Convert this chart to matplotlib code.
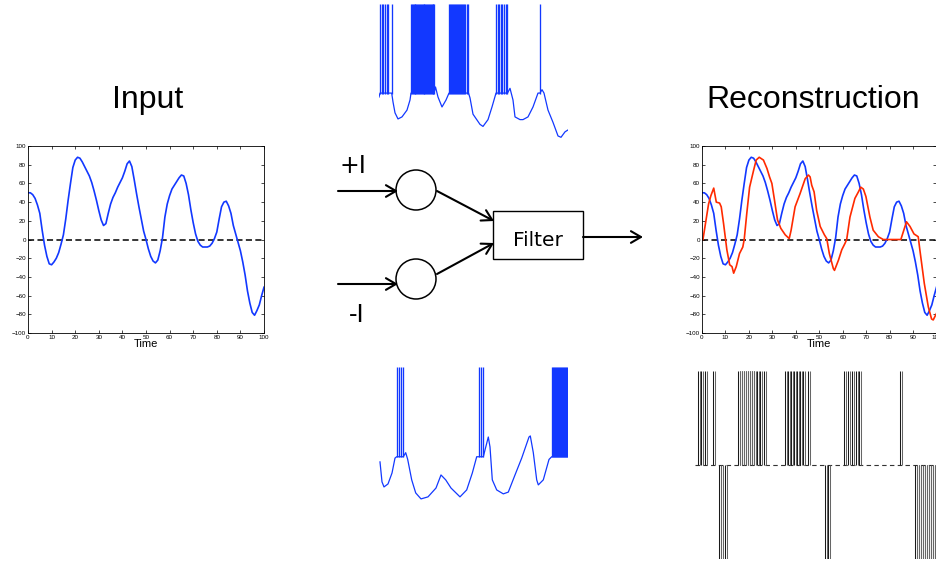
import matplotlib
matplotlib.use('Agg')
import matplotlib.pyplot as plt
from matplotlib.patches import Circle, Rectangle, FancyArrowPatch

plt.rcParams['font.family'] = ['Liberation Sans', 'DejaVu Sans']

BLUE = '#1238ff'
RED = '#ff2a00'

# input signal, one sample per time unit
input_time = list(range(0, 101))
input_signal = [50, 50, 48, 44, 37, 28, 10, -6, -18, -26,
                -27, -24, -20, -14, -5, 5, 22, 42, 60, 77,
                85, 88, 87, 83, 78, 73, 68, 61, 52, 42,
                31, 21, 15, 17, 28, 38, 45, 50, 56, 61,
                66, 73, 81, 84, 78, 64, 49, 35, 22, 9,
                0, -10, -18, -23, -25, -22, -12, 2, 24, 38,
                47, 54, 58, 62, 66, 69, 68, 60, 48, 32,
                18, 6, -2, -6, -8, -8, -8, -7, -4, 1,
                8, 22, 35, 40, 41, 36, 28, 15, 6, -3,
                -12, -24, -38, -55, -68, -78, -81, -76, -70, -60,
                -51]

# reconstruction from the two spike trains
recon_time = [0.4, 2.8, 3.8, 5.0, 6.1, 7.5, 8.2, 9.2, 10.6, 11.8,
              12.8, 13.5, 14.6, 16.0, 17.4, 18.0, 19.1, 20.3, 22.0, 23.1,
              24.4, 26.2, 27.7, 28.8, 29.8, 30.8, 32.2, 33.6, 35.5, 37.2,
              38.0, 39.7, 41.8, 44.0, 45.4, 46.1, 46.8, 47.8, 48.9, 50.4,
              52.2, 53.2, 54.3, 56.0, 56.5, 58.2, 59.6, 61.0, 61.7, 63.1,
              65.2, 66.7, 67.7, 68.8, 69.9, 71.6, 73.0, 75.2, 77.3, 84.8,
              87.2, 88.7, 90.4, 92.2, 92.9, 94.8, 96.5, 97.9, 98.6, 100.0]
recon_signal = [0, 38, 47, 55, 40, 39, 35, 17, -11, -27,
                -29, -36, -29, -15, -8, 0, 28, 56, 74, 85,
                88, 85, 76, 67, 60, 44, 21, 12, 5, 1,
                10, 35, 49, 65, 69, 67, 58, 51, 31, 14,
                5, 1, -15, -31, -33, -22, -11, -4, 0, 24,
                44, 51, 56, 54, 46, 24, 10, 3, 0, 0,
                19, 14, 6, 3, -11, -47, -72, -85, -86, -79]

# membrane potential of the "+I" neuron (ms, mV)
pos_trace_t = [0, 1, 12.7, 14, 16, 19, 23, 28, 31, 32,
               55, 56.5, 59, 63, 67, 70, 89.5, 91, 94, 101,
               104, 109, 113, 117, 128.5, 131, 134, 136, 141, 144,
               149, 154, 159, 161, 163, 165, 169, 174, 179, 182,
               186, 189]
pos_trace_v = [-48.4, -45.5, -45.5, -52, -60, -64.5, -63, -58, -50.6, -45.5,
               -45.5, -41, -48.4, -55.7, -50.6, -45.5, -45.5, -49, -61, -68.5,
               -70, -65, -55.7, -45.5, -45.5, -42, -50.6, -63, -65, -65,
               -63, -55.7, -45.5, -45.5, -43, -45.5, -58, -67, -77, -78,
               -74, -72.6]
pos_spike_times = [1, 2.7, 4.3, 6, 7.7, 9.3, 12.7,
                   32, 32.9, 33.8, 34.7, 35.6, 36.5, 37.4, 38.3, 39.2, 40.1,
                   41, 41.9, 42.8, 43.7, 44.6, 45.5, 46.4, 47.3, 48.2, 49.1,
                   50, 50.9, 51.8, 52.7, 53.6, 54.5, 55.2,
                   70, 71, 72, 73, 73.9, 75, 76, 77, 77.9, 79, 80, 81,
                   82, 83.1, 84, 85, 86, 87.7, 89.3,
                   117, 118.7, 120.3, 121.7, 123.3, 125, 126.7, 128.3,
                   161]

# membrane potential of the "-I" neuron (ms, mV)
neg_trace_t = [1, 3, 5, 9, 13, 16, 17.7, 24.3, 26.7, 28.7,
               32.7, 36.7, 42, 49, 57, 62, 66.7, 72, 81, 87.7,
               93.3, 97.7, 100.3, 104.3, 109.3, 111, 113.3, 117.7, 124.3, 129.3,
               136, 142.7, 150, 151.3, 154.3, 157.7, 159.3, 164.3, 170, 172.7,
               188.7]
neg_trace_v = [-49.8, -64.5, -68.2, -66, -58, -47, -46, -46, -43, -48,
               -63, -72.6, -77, -75.5, -69, -59.4, -63, -69, -75.5, -70.4,
               -58, -46, -46, -46, -31.5, -38.8, -63, -70.4, -73.3, -72,
               -59.4, -47, -31.5, -30.7, -43, -63, -66.7, -63, -48, -46,
               -46]
neg_spike_times = [17.7, 20, 22, 24.3,
                   100.3, 102, 104.3,
                   173, 174, 175, 176, 177, 178, 179, 180, 181, 182,
                   183, 184, 185, 186, 187, 188]

# combined spike train (+1 pulses from "+I", -1 pulses from "-I")
raster_up_times = [-1.7, -0.4, 1.3, 4.7,
                   15.3, 16.2, 17.0, 17.9, 18.7, 19.6, 20.4, 21.3, 22.1, 23.4, 24.7, 26.4,
                   35.3, 36.6, 37.9, 39.1, 40.4, 41.7, 43.0, 45.1,
                   60.4, 62.1, 63.8, 65.5, 66.8,
                   84.3]
raster_down_times = [7.2, 8.1, 9.8,
                     52.3, 53.6,
                     90.6, 91.5, 92.3, 93.2, 94.0, 94.9, 95.7, 96.6, 97.4, 98.3, 99.1]

fig = plt.figure(figsize=(9.37, 5.63), dpi=100)

# overlay in pixel coordinates for the block diagram and titles
ov = fig.add_axes([0, 0, 1, 1])
ov.set_xlim(0, 937)
ov.set_ylim(563, 0)
ov.axis('off')

ov.text(148, 108, 'Input', fontsize=23, ha='center', va='baseline')
ov.text(813, 108, 'Reconstruction', fontsize=23, ha='center', va='baseline')
ov.text(353, 173, '+I', fontsize=17, ha='center', va='baseline', family='DejaVu Sans')
ov.text(357, 322, '-I', fontsize=17, ha='center', va='baseline', family='DejaVu Sans')
ov.text(538, 246, 'Filter', fontsize=14.5, ha='center', va='baseline', family='DejaVu Sans')

ov.add_patch(Circle((416, 190), 20, fill=False, lw=1.1, ec='black'))
ov.add_patch(Circle((416, 279), 20, fill=False, lw=1.1, ec='black'))
ov.add_patch(Rectangle((493, 211), 90, 48, fill=False, lw=1.0, ec='black'))

arrows = [((338, 191), (398, 191)), ((437, 191), (494, 221)),
          ((338, 284), (398, 284)), ((437, 274), (494, 243)),
          ((583, 237), (643, 237))]
for a, b in arrows:
    ov.add_patch(FancyArrowPatch(a, b, arrowstyle='->,head_length=0.6,head_width=0.35',
                                 mutation_scale=12, lw=1.5, color='black',
                                 shrinkA=0, shrinkB=0))


def style_signal_axes(ax):
    ax.set_xlim(0, 100)
    ax.set_ylim(-100, 100)
    ax.set_xticks(range(0, 101, 10))
    ax.set_yticks(range(-100, 101, 20))
    ax.tick_params(direction='in', length=2.5, width=0.5, labelsize=4.5, pad=1.5,
                   top=True, right=True)
    for s in ax.spines.values():
        s.set_linewidth(0.6)
    ax.axhline(0, color='black', ls='--', lw=1.1, dashes=(4, 2.2))
    ax.set_xlabel('Time', fontsize=8, labelpad=-0.5)


ax_in = fig.add_axes([28 / 937, 0.4085, 236 / 937, 0.3321])
style_signal_axes(ax_in)
ax_in.plot(input_time, input_signal, color=BLUE, lw=1.2)

ax_rec = fig.add_axes([702 / 937, 0.4085, 234.5 / 937, 0.3321])
style_signal_axes(ax_rec)
ax_rec.plot(input_time, input_signal, color=BLUE, lw=1.2)
ax_rec.plot(recon_time, recon_signal, color=RED, lw=1.2)

# membrane traces
for rect, tt, vv, spikes in [([379 / 937, 0.7513, 189 / 937, 0.2416], pos_trace_t, pos_trace_v, pos_spike_times),
                             ([379 / 937, 0.1066, 189 / 937, 0.2416], neg_trace_t, neg_trace_v, neg_spike_times)]:
    ax = fig.add_axes(rect)
    ax.set_xlim(0, 189)
    ax.set_ylim(-80, 20)
    ax.axis('off')
    ax.plot(tt, vv, color=BLUE, lw=0.9)
    ax.vlines(spikes, -46, 20, color=BLUE, lw=0.95)

# spike raster
ax_r = fig.add_axes([695 / 937, 4 / 563, 242 / 937, 188 / 563])
ax_r.set_xlim(-3, 100)
ax_r.set_ylim(-1, 1)
ax_r.axis('off')
ax_r.axhline(0, color='#333333', ls='--', lw=0.8, dashes=(4, 3))
w = 0.8
ax_r.vlines(raster_up_times, 0, 1, color='#1a1a1a', lw=0.75)
ax_r.vlines([t + w for t in raster_up_times], 0, 1, color='#666666', lw=0.75)
ax_r.vlines(raster_down_times, -1, 0, color='#1a1a1a', lw=0.75)
ax_r.vlines([t + w for t in raster_down_times], -1, 0, color='#666666', lw=0.75)

fig.savefig('out.png', dpi=100)
